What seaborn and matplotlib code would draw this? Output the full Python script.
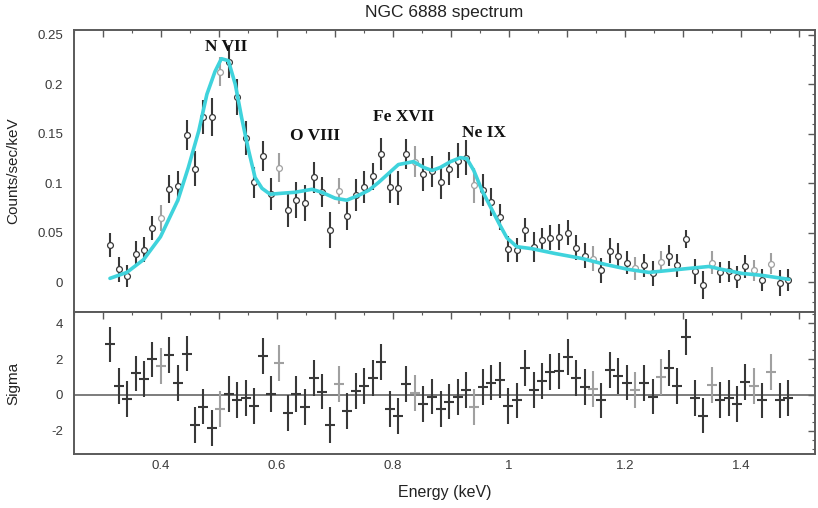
import matplotlib
matplotlib.use("Agg")
import matplotlib.pyplot as plt
from matplotlib.ticker import MultipleLocator, FuncFormatter
import pandas as pd
import seaborn as sns

# Binned spectrum (keV, counts/sec/keV) with 1-sigma errors
energy = [0.312, 0.327, 0.342, 0.356, 0.371, 0.385, 0.400, 0.414, 0.429, 0.444,
          0.458, 0.473, 0.487, 0.502, 0.517, 0.531, 0.546, 0.560, 0.575, 0.590,
          0.604, 0.619, 0.633, 0.648, 0.663, 0.677, 0.692, 0.706, 0.721, 0.736,
          0.750, 0.765, 0.779, 0.794, 0.809, 0.823, 0.838, 0.852, 0.867, 0.882,
          0.896, 0.911, 0.925, 0.940, 0.955, 0.969, 0.984, 0.998, 1.013, 1.028,
          1.042, 1.057, 1.071, 1.086, 1.101, 1.115, 1.130, 1.144, 1.159, 1.174,
          1.188, 1.203, 1.217, 1.232, 1.247, 1.261, 1.276, 1.290, 1.305, 1.320,
          1.334, 1.349, 1.363, 1.378, 1.393, 1.407, 1.422, 1.436, 1.451, 1.466,
          1.480]
counts = [0.038, 0.013, 0.006, 0.029, 0.033, 0.055, 0.065, 0.094, 0.097, 0.149,
          0.115, 0.167, 0.167, 0.213, 0.223, 0.187, 0.146, 0.101, 0.128, 0.089,
          0.116, 0.073, 0.083, 0.080, 0.106, 0.091, 0.053, 0.092, 0.067, 0.088,
          0.096, 0.107, 0.130, 0.096, 0.095, 0.130, 0.122, 0.109, 0.112, 0.101,
          0.115, 0.123, 0.126, 0.098, 0.093, 0.081, 0.066, 0.034, 0.033, 0.053,
          0.036, 0.043, 0.045, 0.046, 0.050, 0.035, 0.027, 0.024, 0.012, 0.032,
          0.027, 0.020, 0.014, 0.017, 0.009, 0.021, 0.027, 0.017, 0.044, 0.011,
          -0.003, 0.020, 0.010, 0.011, 0.005, 0.016, 0.012, 0.002, 0.019, -0.001,
          0.002]
counts_err = [0.012, 0.0125, 0.011, 0.0125, 0.0125, 0.012, 0.013, 0.014, 0.016, 0.015,
              0.0175, 0.017, 0.019, 0.015, 0.017, 0.018, 0.0175, 0.016, 0.015, 0.016,
              0.015, 0.017, 0.018, 0.018, 0.016, 0.015, 0.018, 0.013, 0.014, 0.016,
              0.016, 0.014, 0.016, 0.016, 0.017, 0.015, 0.016, 0.017, 0.016, 0.017,
              0.017, 0.0175, 0.0175, 0.018, 0.016, 0.014, 0.013, 0.013, 0.012, 0.012,
              0.015, 0.012, 0.0125, 0.013, 0.0125, 0.0125, 0.0125, 0.0125, 0.0125, 0.0125,
              0.0125, 0.012, 0.012, 0.012, 0.0125, 0.011, 0.011, 0.012, 0.009, 0.0125,
              0.014, 0.012, 0.011, 0.011, 0.011, 0.012, 0.011, 0.011, 0.011, 0.013,
              0.011]
# Residuals in units of sigma
sigma = [2.82, 0.50, -0.22, 1.20, 0.89, 1.98, 1.61, 2.22, 0.65, 2.31,
         -1.70, -0.65, -1.85, -0.78, 0.06, -0.28, -0.15, -0.61, 2.19, 0.04,
         1.76, -1.02, 0.06, -0.69, 0.93, 0.19, -1.70, 0.61, -0.89, 0.24,
         0.50, 0.93, 1.85, -0.80, -1.20, 0.61, 0.09, -0.50, -0.09, -0.80,
         -0.37, -0.13, 0.28, -0.69, 0.43, 0.69, 0.83, -0.61, -0.31, 1.48,
         0.28, 0.78, 1.30, 1.35, 2.13, 0.93, 0.46, 0.33, -0.31, 1.39,
         1.07, 0.69, 0.28, 0.65, -0.09, 1.02, 1.52, 0.50, 3.24, -0.19,
         -1.15, 0.56, -0.28, -0.19, -0.50, 0.74, 0.50, -0.31, 1.26, -0.31,
         -0.15]
# Bins drawn in a paler grey (1-based)
faint_bins = [7, 14, 21, 28, 37, 44, 58, 63, 66, 72, 77, 79]

# Best-fit model curve
model_energy = [0.312, 0.341, 0.370, 0.399, 0.429, 0.447, 0.465, 0.479, 0.493, 0.504,
                0.516, 0.528, 0.539, 0.551, 0.562, 0.574, 0.588, 0.608, 0.631, 0.660,
                0.677, 0.700, 0.720, 0.741, 0.758, 0.775, 0.792, 0.809, 0.835, 0.853,
                0.867, 0.881, 0.899, 0.916, 0.927, 0.939, 0.953, 0.968, 0.982, 0.996,
                1.013, 1.039, 1.080, 1.126, 1.166, 1.206, 1.241, 1.275, 1.309, 1.344,
                1.367, 1.401, 1.436, 1.482]
model_counts = [0.004, 0.010, 0.023, 0.046, 0.083, 0.116, 0.153, 0.190, 0.213, 0.226,
                0.224, 0.200, 0.166, 0.133, 0.106, 0.095, 0.089, 0.090, 0.091, 0.094,
                0.091, 0.085, 0.083, 0.088, 0.093, 0.101, 0.110, 0.119, 0.122, 0.116,
                0.113, 0.116, 0.122, 0.126, 0.125, 0.113, 0.093, 0.076, 0.060, 0.045,
                0.036, 0.034, 0.029, 0.024, 0.018, 0.013, 0.010, 0.012, 0.014, 0.016,
                0.013, 0.009, 0.007, 0.003]

line_labels = ["N VII", "O VIII", "Fe XVII", "Ne IX"]
line_label_energy = [0.513, 0.666, 0.818, 0.956]
line_label_counts = [0.238, 0.148, 0.167, 0.151]

sns.set_style("white")
plt.rcParams["font.family"] = ["Liberation Sans", "DejaVu Sans"]
plt.rcParams["axes.unicode_minus"] = False

W, H = 818, 508
fig = plt.figure(figsize=(W / 100, H / 100), dpi=100)
left, right = 74, 815
ax_top = fig.add_axes([left / W, (H - 312) / H, (right - left) / W, 282 / H])
ax_bot = fig.add_axes([left / W, (H - 454) / H, (right - left) / W, 142 / H])

spec = pd.DataFrame({"energy": energy, "counts": counts, "err": counts_err,
                     "sigma": sigma})
spec["faint"] = [(i + 1) in faint_bins for i in range(len(spec))]
dark, pale = "#383838", "#a0a0a0"

for faint, grp in spec.groupby("faint"):
    col = pale if faint else dark
    ax_top.errorbar(grp["energy"], grp["counts"], yerr=grp["err"], fmt="none",
                    ecolor=col, elinewidth=1.5, capsize=0, zorder=2)
    ax_top.plot(grp["energy"], grp["counts"], "o", ms=4.2, mfc="white",
                mec=col, mew=0.9, zorder=3)
    ax_bot.errorbar(grp["energy"], grp["sigma"], yerr=1.0, fmt="_", ms=7,
                    mew=1.5, color=col, ecolor=col, elinewidth=1.5, capsize=0,
                    zorder=3)

model = pd.DataFrame({"energy": model_energy, "counts": model_counts})
sns.lineplot(data=model, x="energy", y="counts", ax=ax_top, color="#3fd3dc",
             linewidth=2.6, sort=False, estimator=None, zorder=4)

for lab, xe, yc in zip(line_labels, line_label_energy, line_label_counts):
    ax_top.text(xe, yc, lab, ha="center", va="center", fontsize=12.5,
                fontweight="bold", family=["Liberation Serif", "DejaVu Serif"],
                color="#111111")

ax_bot.axhline(0, color="#666666", lw=1.2, zorder=1)

xlim = (0.25, 1.527)
ax_top.set_xlim(*xlim)
ax_bot.set_xlim(*xlim)
ax_top.set_ylim(-0.030, 0.255)
ax_bot.set_ylim(-3.3, 4.63)

frame_col = "#5a5a5a"
for ax in (ax_top, ax_bot):
    for s in ax.spines.values():
        s.set_visible(True)
        s.set_color(frame_col)
        s.set_linewidth(1.4)
    ax.xaxis.set_major_locator(MultipleLocator(0.1))
    ax.xaxis.set_minor_locator(MultipleLocator(0.05))
    ax.tick_params(which="both", direction="in", top=True, right=True,
                   color=frame_col, labelcolor="#3a3a3a", labelsize=9.5)
    ax.tick_params(which="major", length=5, width=1.0)
    ax.tick_params(which="minor", length=2.5, width=0.8)
    ax.set_xlabel("")
    ax.set_ylabel("")

ax_top.tick_params(axis="x", labelbottom=False)
ax_bot.xaxis.set_major_formatter(FuncFormatter(
    lambda v, p: ("%g" % round(v, 1)) if abs(round(v * 5) - v * 5) < 1e-6 else ""))
ax_bot.tick_params(axis="x", pad=4)

ax_top.yaxis.set_major_locator(MultipleLocator(0.05))
ax_top.yaxis.set_minor_locator(MultipleLocator(0.01))
ax_top.yaxis.set_major_formatter(FuncFormatter(lambda v, p: "%g" % round(v, 2)))
ax_bot.yaxis.set_major_locator(MultipleLocator(2))
ax_bot.yaxis.set_minor_locator(MultipleLocator(0.5))
ax_top.tick_params(axis="y", pad=8)
ax_bot.tick_params(axis="y", pad=8)

ax_top.set_ylabel("Counts/sec/keV", fontsize=11, color="#222222")
ax_bot.set_ylabel("Sigma", fontsize=11, color="#222222")
ax_top.yaxis.set_label_coords(-0.073, 0.5)
ax_bot.yaxis.set_label_coords(-0.073, 0.5)
ax_bot.set_xlabel("Energy (keV)", fontsize=11.5, color="#222222")
ax_bot.xaxis.set_label_coords(0.5, -0.215)

fig.text((left + right) / 2 / W, 1 - 12 / H, "NGC 6888 spectrum", ha="center",
         va="center", fontsize=12.5, color="#222222")

fig.savefig("out.png", dpi=100, facecolor="white")
